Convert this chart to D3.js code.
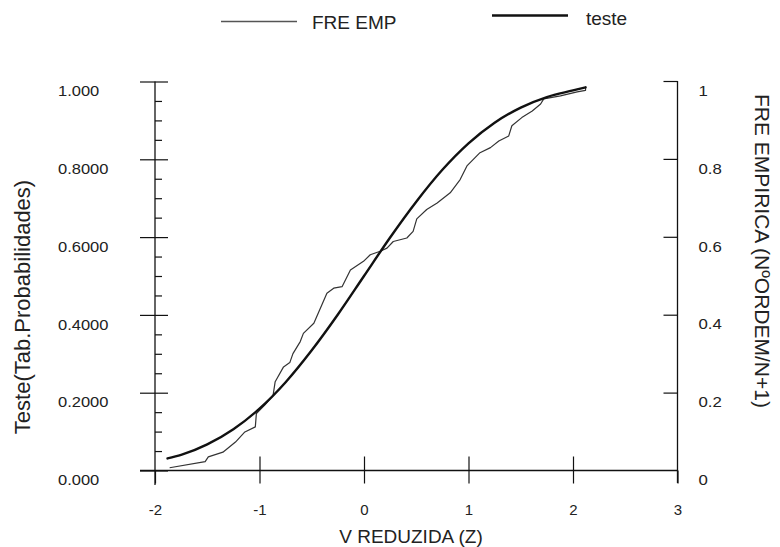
<!DOCTYPE html>
<html>
<head>
<meta charset="utf-8">
<script src="https://cdn.jsdelivr.net/npm/d3@7"></script>
<style>
  html, body { margin: 0; padding: 0; background: #fff; }
  svg { display: block; font-family: "Liberation Sans", Arial, Helvetica, sans-serif; }
</style>
</head>
<body>
<svg id="chart" width="780" height="547"></svg>
<script>
// ---- data ----
const xTicks = [-2, -1, 0, 1, 2, 3];
const xTickLabels = ["-2", "-1", "0", "1", "2", "3"];
const leftTicks = [0, 0.2, 0.4, 0.6, 0.8, 1.0];
const leftTickLabels = ["0.000", "0.2000", "0.4000", "0.6000", "0.8000", "1.000"];
const leftMinorTicks = [0.05, 0.1, 0.15, 0.25, 0.3, 0.35, 0.45, 0.5, 0.55, 0.65, 0.7, 0.75, 0.85, 0.9, 0.95];
const rightTicks = [0, 0.2, 0.4, 0.6, 0.8, 1];
const rightTickLabels = ["0", "0.2", "0.4", "0.6", "0.8", "1"];

// "teste" series (theoretical probability) : z and value
const testeZ = [-1.88, -1.75, -1.5, -1.25, -1.0, -0.75, -0.5, -0.25, 0.0, 0.25, 0.5, 0.75, 1.0, 1.25, 1.5, 1.75, 2.0, 2.12];
const testeV = [0.031, 0.040, 0.067, 0.106, 0.159, 0.227, 0.309, 0.401, 0.500, 0.599, 0.691, 0.773, 0.841, 0.894, 0.933, 0.960, 0.977, 0.985];

// "FRE EMP" series (empirical frequency) : z and value
const empZ = [-1.86, -1.52, -1.49, -1.35, -1.23, -1.14, -1.04, -1.03, -0.95, -0.87, -0.85, -0.77, -0.71, -0.68, -0.61, -0.58,
              -0.48, -0.355, -0.29, -0.21, -0.13, -0.005, 0.06, 0.155, 0.22, 0.28, 0.41, 0.47, 0.505, 0.60, 0.70, 0.825,
              0.92, 0.985, 1.11, 1.21, 1.29, 1.385, 1.415, 1.51, 1.61, 1.69, 1.72, 1.88, 2.04, 2.12, 2.12];
const empV = [0.007, 0.023, 0.035, 0.047, 0.073, 0.099, 0.112, 0.146, 0.168, 0.193, 0.228, 0.266, 0.277, 0.300, 0.331, 0.352,
              0.378, 0.455, 0.468, 0.472, 0.515, 0.537, 0.554, 0.563, 0.571, 0.588, 0.597, 0.614, 0.646, 0.670, 0.687, 0.713,
              0.747, 0.782, 0.816, 0.829, 0.846, 0.859, 0.885, 0.906, 0.923, 0.941, 0.954, 0.962, 0.972, 0.976, 0.985];

const seriesNames = ["FRE EMP", "teste"];
const xTitle = "V REDUZIDA (Z)";
const leftTitle = "Teste(Tab.Probabilidades)";
const rightTitle = "FRE EMPIRICA (N\u00BAORDEM/N+1)";

// ---- layout ----
const svg = d3.select("#chart");
const x = d3.scaleLinear().domain([-2, 3]).range([155, 677.5]);
const yL = d3.scaleLinear().domain([0, 1]).range([470.5, 81.5]);
const yR = d3.scaleLinear().domain([0, 1]).range([470.5, 81]);
const axisColor = "#111";

// axis lines (extend slightly past the plot like the original)
svg.append("line").attr("x1", 140).attr("x2", x(3)).attr("y1", yL(0)).attr("y2", yL(0))
  .attr("stroke", axisColor).attr("stroke-width", 1.3);
svg.append("line").attr("x1", x(-2)).attr("x2", x(-2)).attr("y1", yL(1)).attr("y2", 485)
  .attr("stroke", axisColor).attr("stroke-width", 1.3);
svg.append("line").attr("x1", x(3)).attr("x2", x(3)).attr("y1", yR(1)).attr("y2", 483)
  .attr("stroke", axisColor).attr("stroke-width", 1.3);

function styleAxis(g) {
  g.select(".domain").remove();
  g.selectAll(".tick line").attr("stroke", axisColor).attr("stroke-width", 1.2);
  g.selectAll(".tick text").attr("fill", "#222").attr("font-size", 15);
}

// left axis: major ticks crossing, minor ticks to the right
const gLeft = svg.append("g").attr("transform", `translate(${x(-2)},0)`)
  .call(d3.axisLeft(yL).tickValues(leftTicks).tickSize(15)
    .tickFormat((d, i) => leftTickLabels[i]));
styleAxis(gLeft);
gLeft.selectAll(".tick text").attr("text-anchor", "start").attr("dy", "0.95em")
  .attr("transform", "scale(1.1,1)")
  .attr("x", (58 - 155) / 1.1);

svg.append("g").attr("transform", `translate(${x(-2)},0)`)
  .call(d3.axisRight(yL).tickValues(leftTicks).tickSize(13).tickFormat(""))
  .call(styleAxis);
svg.append("g").attr("transform", `translate(${x(-2)},0)`)
  .call(d3.axisRight(yL).tickValues(leftMinorTicks).tickSize(7).tickFormat(""))
  .call(styleAxis);

// bottom axis: ticks crossing
const gBottom = svg.append("g").attr("transform", `translate(0,${yL(0)})`)
  .call(d3.axisBottom(x).tickValues(xTicks).tickSize(13).tickPadding(0)
    .tickFormat((d, i) => xTickLabels[i]));
styleAxis(gBottom);
gBottom.selectAll(".tick text").attr("y", 44.5).attr("dy", 0);
svg.append("g").attr("transform", `translate(0,${yL(0)})`)
  .call(d3.axisTop(x).tickValues(xTicks.slice(1, 5)).tickSize(14).tickFormat(""))
  .call(styleAxis);

// right axis: ticks pointing left, labels to the right
svg.append("g").attr("transform", `translate(${x(3)},0)`)
  .call(d3.axisLeft(yR).tickValues(rightTicks.slice(1)).tickSize(14).tickFormat(""))
  .call(styleAxis);
const gRight = svg.append("g").attr("transform", `translate(${x(3)},0)`)
  .call(d3.axisRight(yR).tickValues(rightTicks).tickSize(0).tickPadding(21)
    .tickFormat((d, i) => rightTickLabels[i]));
styleAxis(gRight);
gRight.selectAll(".tick text").attr("dy", "0.95em").attr("x", 21 / 1.12)
  .attr("transform", "scale(1.12,1)");

// ---- series ----
const teste = testeZ.map((z, i) => [z, testeV[i]]);
const emp = empZ.map((z, i) => [z, empV[i]]);

svg.append("path").datum(emp)
  .attr("d", d3.line().x(d => x(d[0])).y(d => yR(d[1])).curve(d3.curveLinear))
  .attr("fill", "none").attr("stroke", "#333").attr("stroke-width", 1.2).attr("stroke-linejoin", "round");

svg.append("path").datum(teste)
  .attr("d", d3.line().x(d => x(d[0])).y(d => yL(d[1])).curve(d3.curveMonotoneX))
  .attr("fill", "none").attr("stroke", "#111").attr("stroke-width", 2.4).attr("stroke-linecap", "round");

// ---- legend ----
const legend = svg.append("g");
legend.append("line").attr("x1", 221).attr("x2", 297).attr("y1", 21.5).attr("y2", 21.5)
  .attr("stroke", "#555").attr("stroke-width", 1.5);
legend.append("text").attr("x", 312).attr("y", 28.5).attr("font-size", 19).attr("fill", "#222").text(seriesNames[0]);
legend.append("line").attr("x1", 492).attr("x2", 568).attr("y1", 15.5).attr("y2", 15.5)
  .attr("stroke", "#111").attr("stroke-width", 2.6);
legend.append("text").attr("x", 586).attr("y", 25).attr("font-size", 19).attr("fill", "#222").text(seriesNames[1]);

// ---- axis titles ----
svg.append("text").attr("x", 411).attr("y", 543).attr("text-anchor", "middle")
  .attr("font-size", 19).attr("fill", "#222").text(xTitle);
svg.append("text").attr("transform", "translate(22,307) rotate(-90)")
  .attr("text-anchor", "middle").attr("dominant-baseline", "central")
  .attr("font-size", 22).attr("fill", "#222").text(leftTitle);
svg.append("text").attr("transform", "translate(762,251) rotate(90)")
  .attr("text-anchor", "middle").attr("dominant-baseline", "central")
  .attr("font-size", 21).attr("fill", "#222").text(rightTitle);
</script>
</body>
</html>
